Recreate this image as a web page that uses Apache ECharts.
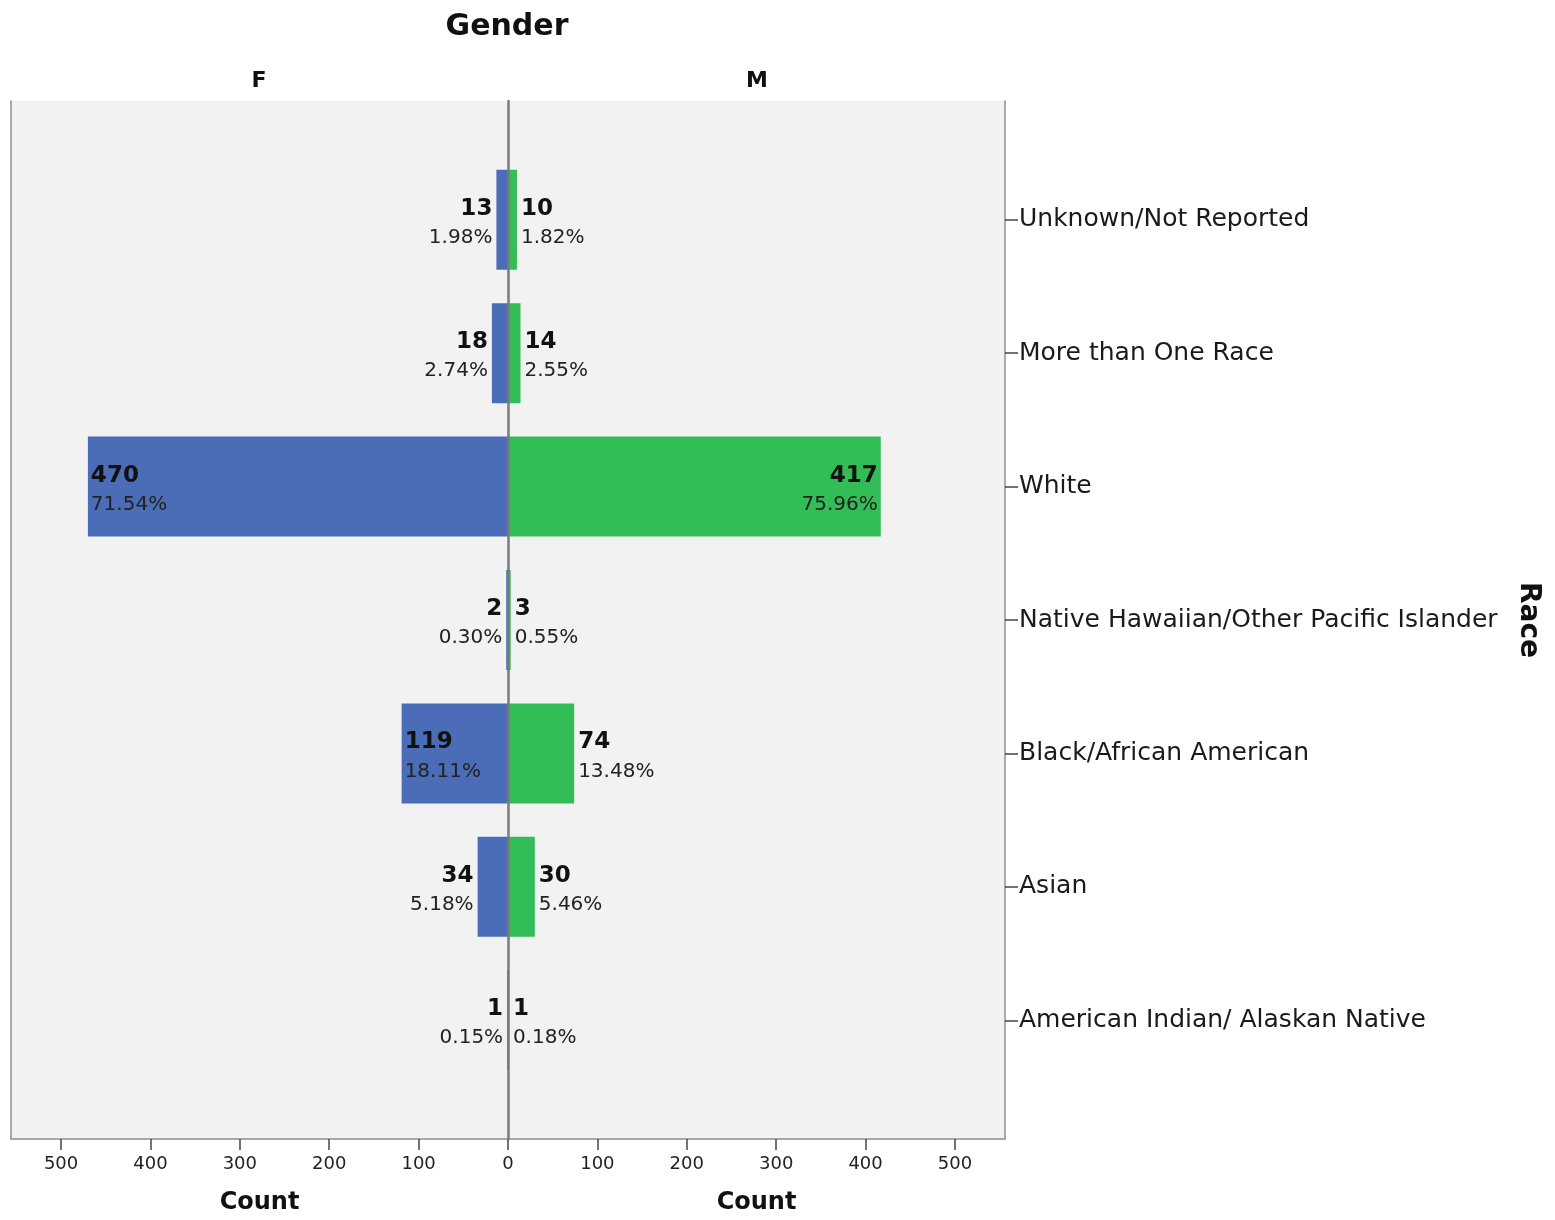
<!DOCTYPE html>
<html><head><meta charset="utf-8">
<script src="https://cdn.jsdelivr.net/npm/echarts@6/dist/echarts.min.js"></script>
<style>html,body{margin:0;padding:0;background:#fff;overflow:hidden}#c{width:1555px;height:1220px}</style>
</head><body><div id="c"></div>
<script>
const categories = ['Unknown/Not Reported','More than One Race','White','Native Hawaiian/Other Pacific Islander','Black/African American','Asian','American Indian/ Alaskan Native'];
const femaleCounts = [13, 18, 470, 2, 119, 34, 1];
const maleCounts = [10, 14, 417, 3, 74, 30, 1];
const femalePct = ['1.98%','2.74%','71.54%','0.30%','18.11%','5.18%','0.15%'];
const malePct = ['1.82%','2.55%','75.96%','0.55%','13.48%','5.46%','0.18%'];
const countTicks = [0, 100, 200, 300, 400, 500];
const countLabelsRight = [100, 200, 300, 400, 500];
const catIndex = categories.map((c, i) => i);

const FONT = '"DejaVu Sans", Verdana, sans-serif';
const BLUE = '#4b6cb7';
const GREEN = '#33bd56';
const AXMAX = 556;

function makeRender(counts, pcts, side, color) {
  return function (params, api) {
    const idx = api.value(1);
    const v = api.value(0);
    const base = api.coord([0, idx]);
    const end = api.coord([v, idx]);
    const h = api.size([0, 0.75])[1];
    const x0 = Math.min(base[0], end[0]);
    const w = Math.abs(end[0] - base[0]);
    const cy = base[1];
    const inside = w > 90;
    let tx, align;
    if (side < 0) {
      if (inside) { tx = end[0] + 3; align = 'left'; } else { tx = end[0] - 4; align = 'right'; }
    } else {
      if (inside) { tx = end[0] - 3; align = 'right'; } else { tx = end[0] + 4; align = 'left'; }
    }
    const i = params.dataIndex;
    return {
      type: 'group',
      children: [
        { type: 'rect', shape: { x: x0, y: cy - h / 2, width: w, height: h }, style: { fill: color } },
        { type: 'text', z2: 5, style: { text: String(counts[i]), x: tx, y: cy - 11, align: align, verticalAlign: 'middle', textAlign: align, textVerticalAlign: 'middle', font: 'bold 23px ' + FONT, fill: '#111' } },
        { type: 'text', z2: 5, style: { text: pcts[i], x: tx, y: cy + 18, align: align, verticalAlign: 'middle', textAlign: align, textVerticalAlign: 'middle', font: '20px ' + FONT, fill: '#222' } }
      ]
    };
  };
}

const yBase = { type: 'value', inverse: true, min: -0.89, max: 6.89, splitLine: { show: false }, axisTick: { show: false }, axisLabel: { show: false } };
function xAxisFor(gridIndex, inverse, labelValues) {
  return {
    gridIndex: gridIndex, inverse: inverse,
    type: 'value', min: 0, max: AXMAX, position: 'bottom',
    splitLine: { show: false },
    axisLine: { show: true, onZero: false, lineStyle: { color: '#8f8f8f', width: 1.5 } },
    axisTick: { show: true, length: 11, customValues: countTicks, lineStyle: { color: '#444', width: 1.5 } },
    axisLabel: { customValues: labelValues, margin: 16, fontSize: 18, fontFamily: FONT, color: '#222' },
    name: 'Count', nameLocation: 'middle', nameGap: 52,
    nameTextStyle: { fontWeight: 'bold', fontSize: 24, fontFamily: FONT, color: '#111' }
  };
}

const option = {
  backgroundColor: '#ffffff',
  animation: false,
  title: [
    { text: 'Gender', left: 507, top: 12, textAlign: 'center', padding: 0, textStyle: { fontSize: 30, fontWeight: 'bold', fontFamily: FONT, color: '#111' } },
    { text: 'F', left: 259, top: 70, textAlign: 'center', padding: 0, textStyle: { fontSize: 22, fontWeight: 'bold', fontFamily: FONT, color: '#111' } },
    { text: 'M', left: 757, top: 70, textAlign: 'center', padding: 0, textStyle: { fontSize: 22, fontWeight: 'bold', fontFamily: FONT, color: '#111' } }
  ],
  grid: [
    { left: 11, top: 101, width: 497, height: 1040, show: true, backgroundColor: '#f2f2f2', borderWidth: 0 },
    { left: 508, top: 101, width: 497, height: 1040, show: true, backgroundColor: '#f2f2f2', borderWidth: 0 }
  ],
  xAxis: [
    xAxisFor(0, true, countTicks),
    xAxisFor(1, false, countLabelsRight)
  ],
  yAxis: [
    Object.assign({}, yBase, { gridIndex: 0, position: 'left', axisLine: { show: true, onZero: false, lineStyle: { color: '#8f8f8f', width: 1.5 } } }),
    Object.assign({}, yBase, { gridIndex: 0, position: 'right', z: 10, axisLine: { show: true, onZero: false, lineStyle: { color: '#7a7a7a', width: 2.5 } } }),
    Object.assign({}, yBase, {
      gridIndex: 1, position: 'right',
      axisLine: { show: true, onZero: false, lineStyle: { color: '#8f8f8f', width: 1.5 } },
      axisTick: { show: true, length: 13, customValues: catIndex, lineStyle: { color: '#444', width: 1.5 } },
      axisLabel: { show: true, customValues: catIndex, margin: 14, padding: [5, 0, 0, 0], fontSize: 25, fontFamily: FONT, color: '#1a1a1a', formatter: v => categories[Math.round(v)] },
      name: 'Race', nameLocation: 'middle', nameRotate: -90, nameGap: 509,
      nameTextStyle: { fontWeight: 'bold', fontSize: 28, fontFamily: FONT, color: '#111' }
    })
  ],
  series: [
    { type: 'custom', name: 'F', xAxisIndex: 0, yAxisIndex: 0, encode: { x: 0, y: 1 },
      data: femaleCounts.map((v, i) => [v, catIndex[i]]), renderItem: makeRender(femaleCounts, femalePct, -1, BLUE) },
    { type: 'custom', name: 'M', xAxisIndex: 1, yAxisIndex: 2, encode: { x: 0, y: 1 },
      data: maleCounts.map((v, i) => [v, catIndex[i]]), renderItem: makeRender(maleCounts, malePct, 1, GREEN) }
  ]
};

const chart = echarts.init(document.getElementById('c'), null, { renderer: 'canvas' });
chart.setOption(option);
</script>
</body></html>
